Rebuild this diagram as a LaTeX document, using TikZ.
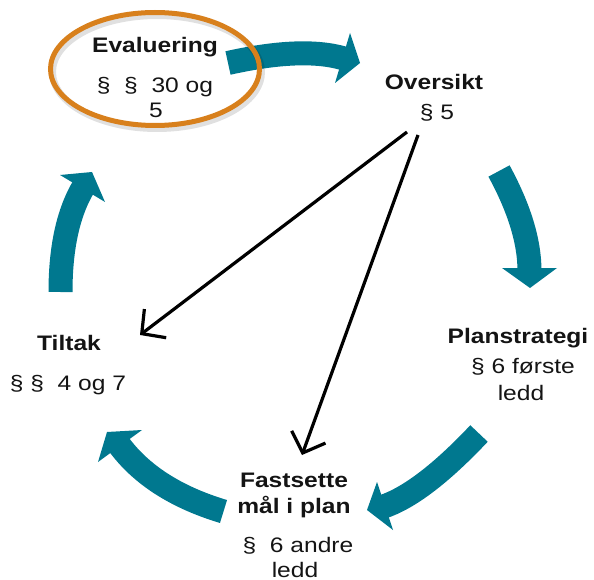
\documentclass[tikz,border=0pt]{standalone}
\usepackage{fontspec}
\setmainfont{Liberation Sans}[FakeStretch=1.17]
\usetikzlibrary{arrows.meta,calc}
\definecolor{tealc}{HTML}{00788F}
\definecolor{orngc}{HTML}{D8801C}
\begin{document}
\begin{tikzpicture}[x=1pt,y=-1pt,
  lbl/.style={anchor=base,inner sep=0pt,text=black!92,font=\fontsize{21}{25}\selectfont},
  ttl/.style={anchor=base,inner sep=0pt,text=black!92,font=\fontsize{21}{25}\selectfont\bfseries},
  shaft/.style={draw=tealc,line width=24pt},
  headc/.style={fill=tealc},
  ptr/.style={draw=black,line width=3.2pt,-{Straight Barb[length=17pt,width=36pt]}}]
\useasboundingbox (0,0) rectangle (594,580);

% ---- teal cycle arrows ----
\coordinate (a1s) at (228,63);   \coordinate (a1c) at (304,46);   \coordinate (a1e) at (345.4,58.9);
\coordinate (a1h) at (350,33);   \coordinate (a1t) at (360,63);   \coordinate (a1k) at (335,83);
\coordinate (a2s) at (499,171);  \coordinate (a2c) at (529.5,227); \coordinate (a2e) at (529.5,271);
\coordinate (a2h) at (502,268);  \coordinate (a2t) at (530,288);  \coordinate (a2k) at (557,268);
\coordinate (a3s) at (479,433.5);\coordinate (a3c) at (422,494);  \coordinate (a3e) at (382.2,507);
\coordinate (a3h) at (377,482);  \coordinate (a3t) at (367,510);  \coordinate (a3k) at (393,530);
\coordinate (a4s) at (223.5,511.5);\coordinate (a4c) at (152,490);\coordinate (a4e) at (118.2,443.6);
\coordinate (a4h) at (142,430);  \coordinate (a4t) at (107,432);  \coordinate (a4k) at (98,462);
\coordinate (a5s) at (60.5,292); \coordinate (a5c) at (60.5,225); \coordinate (a5e) at (84,186);
\coordinate (a5h) at (60,175);   \coordinate (a5t) at (92,172);   \coordinate (a5k) at (105,202);

\foreach \i in {1,...,5}{
  \draw[shaft] (a\i s) .. controls ($(a\i s)!0.667!(a\i c)$) and ($(a\i e)!0.667!(a\i c)$) .. (a\i e);
  \fill[headc] (a\i h) -- (a\i t) -- (a\i k) -- cycle;
}

% ---- orange ring round Evaluering ----
\draw[black, opacity=0.12, line width=7pt] (157,72) ellipse [x radius=104.5pt, y radius=56.5pt];
\draw[orngc, line width=5pt] (155,69) ellipse [x radius=104.5pt, y radius=56.5pt];

% ---- labels ----
\node[ttl] (ev1) at (155,53) {Evaluering};
\node[lbl] (ev2) at (155,93) {§\ \ §\ \ 30 og};
\node[lbl] (ev3) at (156,118) {5};

\node[ttl] (ov1) at (434,90) {Oversikt};
\node[lbl] (ov2) at (437,120) {§ 5};

\node[ttl] (pl1) at (518,343) {Planstrategi};
\node[lbl] (pl2) at (523,373) {§ 6 første};
\node[lbl] (pl3) at (521,400) {ledd};

\node[ttl] (ti1) at (69,350) {Tiltak};
\node[lbl] (ti2) at (68,390) {§ §\ \ 4 og 7};

\node[ttl] (fa1) at (294,487) {Fastsette};
\node[ttl] (fa2) at (294,513) {mål i plan};
\node[lbl] (fa3) at (298,552) {§\ \ 6 andre};
\node[lbl] (fa4) at (295,577) {ledd};

% ---- black arrows from Oversikt ----
\coordinate (p1s) at (407,132); \coordinate (p1e) at (140,335);
\coordinate (p2s) at (418,135); \coordinate (p2e) at (302,455);
\draw[ptr] (p1s) -- (p1e);
\draw[ptr] (p2s) -- (p2e);
\end{tikzpicture}
\end{document}
